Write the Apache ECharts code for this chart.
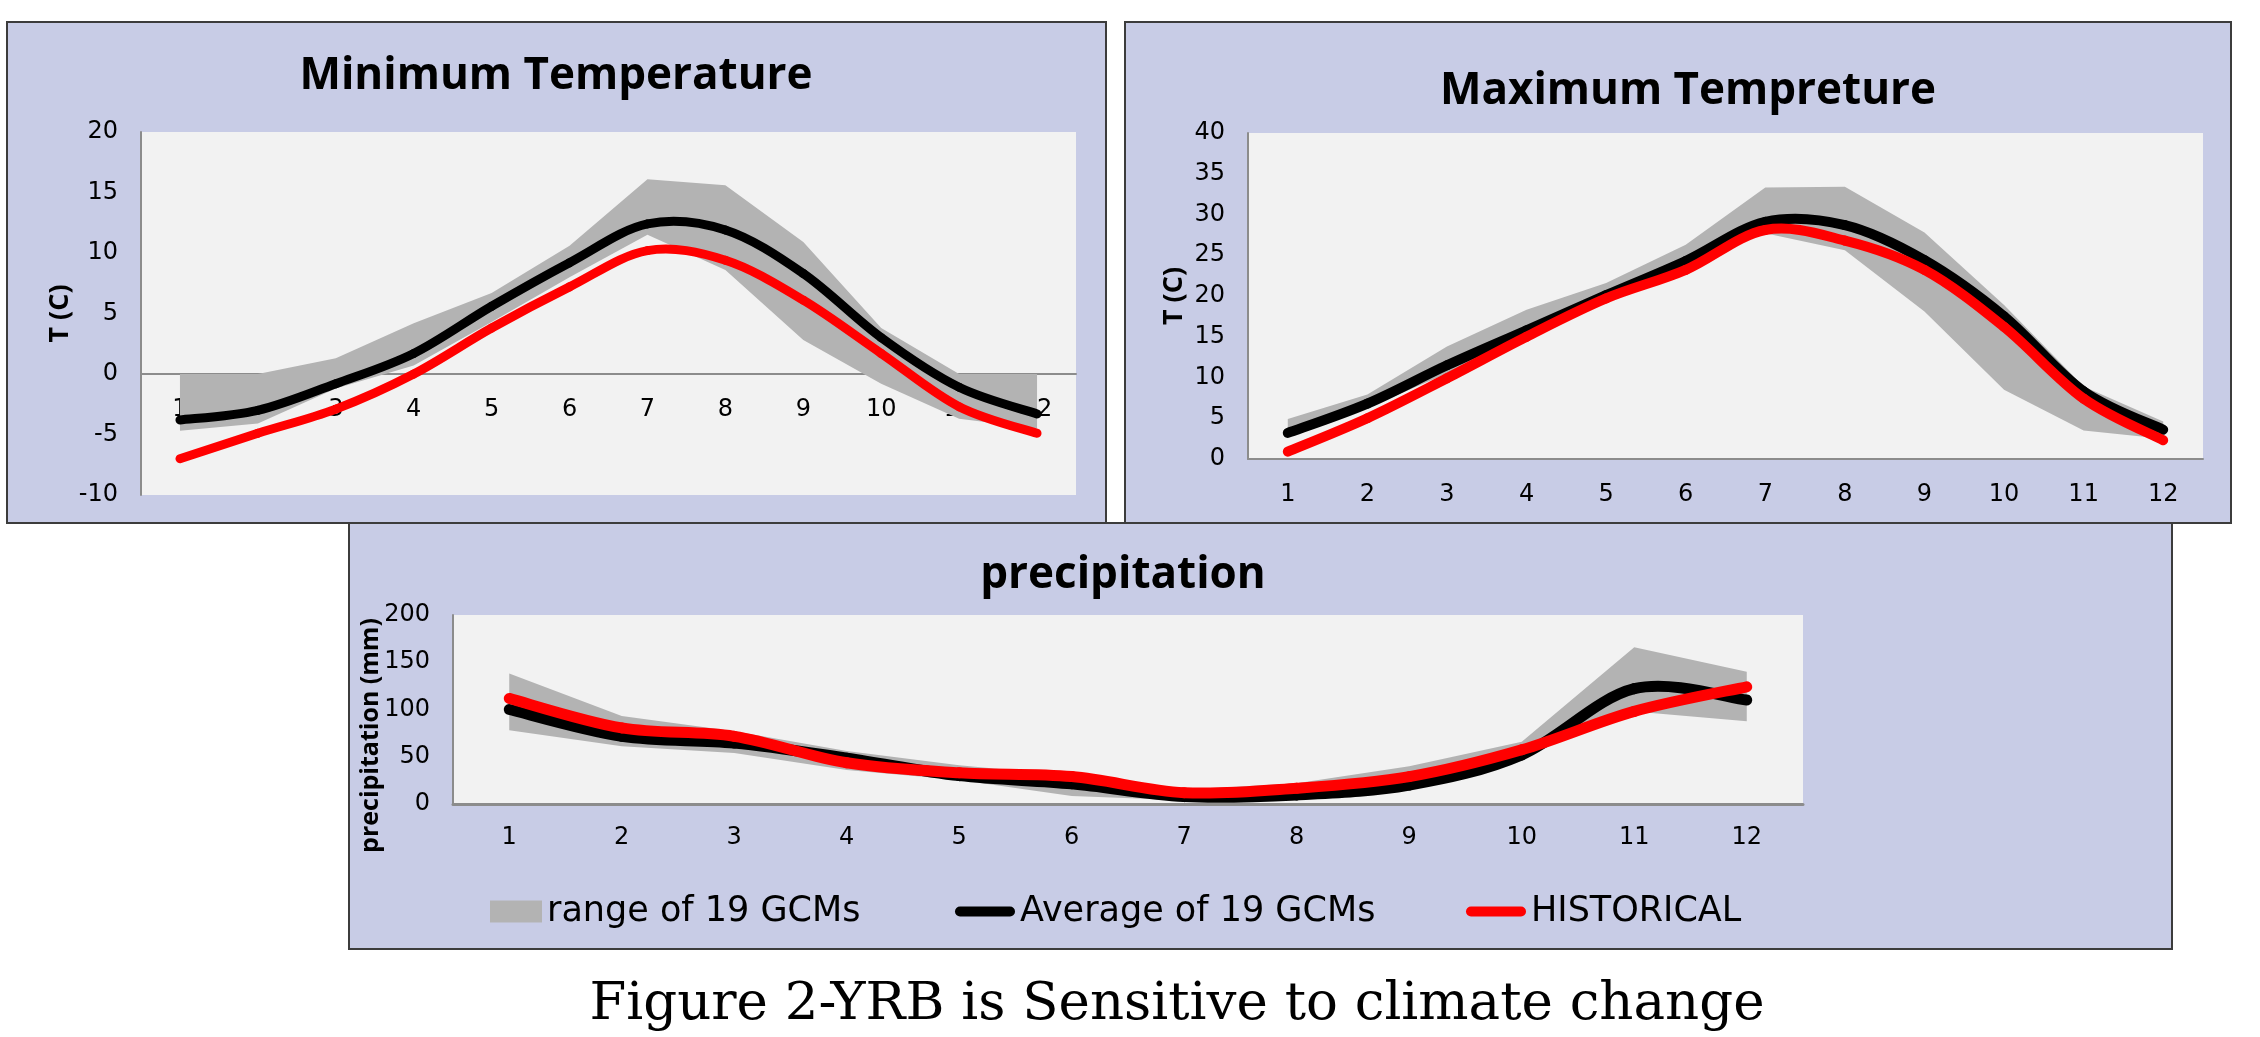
<!DOCTYPE html>
<html>
<head>
<meta charset="utf-8">
<script src="https://cdn.jsdelivr.net/npm/echarts@6/dist/echarts.min.js"></script>
<style>
html,body{margin:0;padding:0;background:#fff;}
#chart{width:2260px;height:1037px;}
</style>
</head>
<body>
<div id="chart"></div>
<script>
// ---------- data ----------
const months = ['1','2','3','4','5','6','7','8','9','10','11','12'];

// Minimum temperature (C)
const minRangeLow  = [-4.7, -4.1, -1.2, 0.7, 4.3, 8.0, 11.5, 8.6, 2.8, -0.8, -3.7, -4.5];
const minRangeHigh = [0, 0, 1.3, 4.2, 6.7, 10.6, 16.1, 15.6, 10.9, 3.8, 0, 0];
const minAvg       = [-3.8, -3.0, -0.8, 1.7, 5.6, 9.2, 12.4, 11.9, 8.3, 3.0, -1.1, -3.3];
const minHist      = [-7.0, -4.9, -2.9, 0.0, 3.8, 7.2, 10.2, 9.4, 6.1, 1.7, -2.7, -4.9];

// Maximum temperature (C)
const maxRangeLow  = [3.0, 6.3, 10.5, 15.2, 19.8, 24.0, 27.7, 25.6, 18.1, 8.5, 3.5, 2.5];
const maxRangeHigh = [4.9, 7.9, 13.8, 18.3, 21.6, 26.3, 33.3, 33.4, 27.8, 18.9, 8.9, 4.6];
const maxAvg       = [3.2, 6.8, 11.5, 15.8, 20.1, 24.3, 29.1, 28.7, 24.4, 17.5, 8.3, 3.6];
const maxHist      = [0.9, 5.0, 9.9, 15.0, 19.7, 23.2, 28.1, 26.8, 23.2, 16.2, 7.4, 2.3];

// Precipitation (mm)
const prRangeLow  = [78, 61, 54, 36, 25.5, 8.5, 4, 5.3, 16.7, 50, 98, 87.6];
const prRangeHigh = [138, 93, 77, 56, 41, 30, 15, 22, 40, 66, 166, 140];
const prAvg       = [100, 71.6, 64.5, 48.5, 30, 21.3, 7.8, 9.6, 20, 52, 122, 110];
const prHist      = [111.7, 80.5, 71.6, 43.6, 33, 29, 12, 16.7, 29, 57.4, 98, 124];

const titles = ['Minimum Temperature', 'Maximum Tempreture', 'precipitation'];
const yNames = ['T (C)', 'T (C)', 'precipitation (mm)'];
const legendNames = ['range of 19 GCMs', 'Average of 19 GCMs', 'HISTORICAL'];
const caption = 'Figure 2-YRB is Sensitive to climate change';

// ---------- styling ----------
const PANEL_BG = '#c8cce6';
const PLOT_BG = '#f2f2f2';
const BAND = '#b3b3b3';
const AXIS = '#8c8c8c';
const TICK_FONT = 'DejaVu Sans';
const TITLE_FONT = 'Open Sans';

const grids = [
  {left: 141, top: 132, width: 935, height: 363},
  {left: 1248, top: 133, width: 955, height: 326},
  {left: 453, top: 615, width: 1350, height: 189}
];
const yCfg = [
  {min: -10, max: 20, interval: 5, nameGap: 67, nameSize: 27, pad: [0,0,0,0]},
  {min: 0, max: 40, interval: 5, nameGap: 60, nameSize: 27, pad: [0,0,0,0]},
  {min: 0, max: 200, interval: 50, nameGap: 70, nameSize: 25, pad: [0,52,0,0]}
];
const xMargins = [-97, 24, 22];
const lineWidths = [9, 10, 11];

const datasets = [
  [minRangeLow, minRangeHigh, minAvg, minHist],
  [maxRangeLow, maxRangeHigh, maxAvg, maxHist],
  [prRangeLow, prRangeHigh, prAvg, prHist]
];

// Smoothed line (cubic Bezier through every data point, like the spreadsheet's smoothed line),
// positioned with the axes' own scales via api.coord.
function smoothLine(name, values, gi, color, width, zv) {
  return {
    name: name, type: 'custom', xAxisIndex: gi, yAxisIndex: gi, z: zv,
    data: values.map((v, k) => [k, v]),
    encode: {x: 0, y: 1},
    itemStyle: {color: color},
    renderItem: function (params, api) {
      const k = params.dataIndexInside;
      const n = params.dataInsideLength;
      if (k >= n - 1) return null;
      const P = j => api.coord([api.value(0, j), api.value(1, j)]);
      const p0 = P(Math.max(k - 1, 0)), p1 = P(k), p2 = P(k + 1), p3 = P(Math.min(k + 2, n - 1));
      const t = 1 / 6;
      return {
        type: 'bezierCurve',
        shape: {
          x1: p1[0], y1: p1[1], x2: p2[0], y2: p2[1],
          cpx1: p1[0] + (p2[0] - p0[0]) * t, cpy1: p1[1] + (p2[1] - p0[1]) * t,
          cpx2: p2[0] - (p3[0] - p1[0]) * t, cpy2: p2[1] - (p3[1] - p1[1]) * t
        },
        style: {stroke: color, lineWidth: width, lineCap: 'round', fill: 'none'}
      };
    }
  };
}

const xAxes = [], yAxes = [], series = [];
grids.forEach((g, i) => {
  g.show = true; g.backgroundColor = PLOT_BG; g.borderWidth = 0; g.containLabel = false;
  xAxes.push({
    gridIndex: i, type: 'category', data: months, boundaryGap: true,
    axisLine: {onZero: true, lineStyle: {color: AXIS, width: i === 2 ? 3 : 2}},
    axisTick: {show: false}, splitLine: {show: false},
    axisLabel: {margin: xMargins[i], fontSize: 24, color: '#000', fontFamily: TICK_FONT}
  });
  yAxes.push({
    gridIndex: i, type: 'value', min: yCfg[i].min, max: yCfg[i].max, interval: yCfg[i].interval,
    axisLine: {show: true, lineStyle: {color: AXIS, width: 2}},
    axisTick: {show: false}, splitLine: {show: false},
    axisLabel: {margin: 23, fontSize: 24, color: '#000', fontFamily: TICK_FONT},
    name: yNames[i], nameLocation: 'middle', nameGap: yCfg[i].nameGap, nameRotate: 90,
    nameMoveOverlap: false,
    nameTextStyle: {fontWeight: 'bold', fontSize: yCfg[i].nameSize, color: '#000', fontFamily: 'Open Sans', padding: yCfg[i].pad}
  });
  const [lo, hi, avg, hist] = datasets[i];
  const diff = hi.map((v, k) => +(v - lo[k]).toFixed(2));
  series.push({
    name: 'lower', type: 'line', xAxisIndex: i, yAxisIndex: i, data: lo, z: 1,
    stack: 'band' + i, stackStrategy: 'all', symbol: 'none', silent: true,
    lineStyle: {width: 0, opacity: 0}, itemStyle: {color: BAND}
  });
  series.push({
    name: legendNames[0], type: 'line', xAxisIndex: i, yAxisIndex: i, data: diff, z: 1,
    stack: 'band' + i, stackStrategy: 'all', symbol: 'none',
    lineStyle: {width: 0, opacity: 0}, itemStyle: {color: BAND},
    areaStyle: {color: BAND, opacity: 1}
  });
  series.push(smoothLine(legendNames[1], avg, i, '#000000', lineWidths[i], 5));
  series.push(smoothLine(legendNames[2], hist, i, '#ff0000', lineWidths[i], 6));
});

const titleStyle = {fontFamily: TITLE_FONT, fontWeight: 'bold', fontSize: 44, color: '#000'};
const titleOpts = [
  {text: titles[0], left: 556, top: 54, textAlign: 'center', padding: 0, textStyle: titleStyle},
  {text: titles[1], left: 1688, top: 69, textAlign: 'center', padding: 0, textStyle: titleStyle},
  {text: titles[2], left: 1123, top: 553, textAlign: 'center', padding: 0, textStyle: titleStyle}
];

const legendText = {fontSize: 35, fontFamily: 'DejaVu Sans', color: '#000', lineHeight: 34};
const pill = 'path://M5,0 H55 A5,5 0 0 1 55,10 H5 A5,5 0 0 1 5,0 Z';
const legends = [
  {left: 490, top: 894, padding: 0, itemWidth: 52, itemHeight: 22, textStyle: legendText,
   data: [{name: legendNames[0], icon: 'rect', itemStyle: {color: BAND, opacity: 1}}]},
  {left: 955, top: 894, padding: 0, itemWidth: 60, itemHeight: 11, textStyle: legendText,
   data: [{name: legendNames[1], icon: pill, itemStyle: {color: '#000', opacity: 1}}]},
  {left: 1466, top: 894, padding: 0, itemWidth: 60, itemHeight: 11, textStyle: legendText,
   data: [{name: legendNames[2], icon: pill, itemStyle: {color: '#ff0000', opacity: 1}}]}
];

const panel = (x, y, w, h) => ({
  type: 'rect', z: -10, silent: true,
  shape: {x: x, y: y, width: w, height: h},
  style: {fill: PANEL_BG, stroke: '#3c3c3c', lineWidth: 2}
});

const option = {
  animation: false,
  backgroundColor: '#ffffff',
  graphic: [
    panel(7, 22, 1099, 501),
    panel(1125, 22, 1106, 501),
    panel(349, 523, 1823, 426),
    {type: 'text', z: 10, silent: true, x: 1177, y: 1005,
     style: {text: caption, font: '53px "DejaVu Serif"', fill: '#000', align: 'center', verticalAlign: 'middle'}}
  ],
  title: titleOpts,
  legend: legends,
  grid: grids,
  xAxis: xAxes,
  yAxis: yAxes,
  series: series
};

const chart = echarts.init(document.getElementById('chart'), null, {renderer: 'canvas'});
chart.setOption(option);
</script>
</body>
</html>
